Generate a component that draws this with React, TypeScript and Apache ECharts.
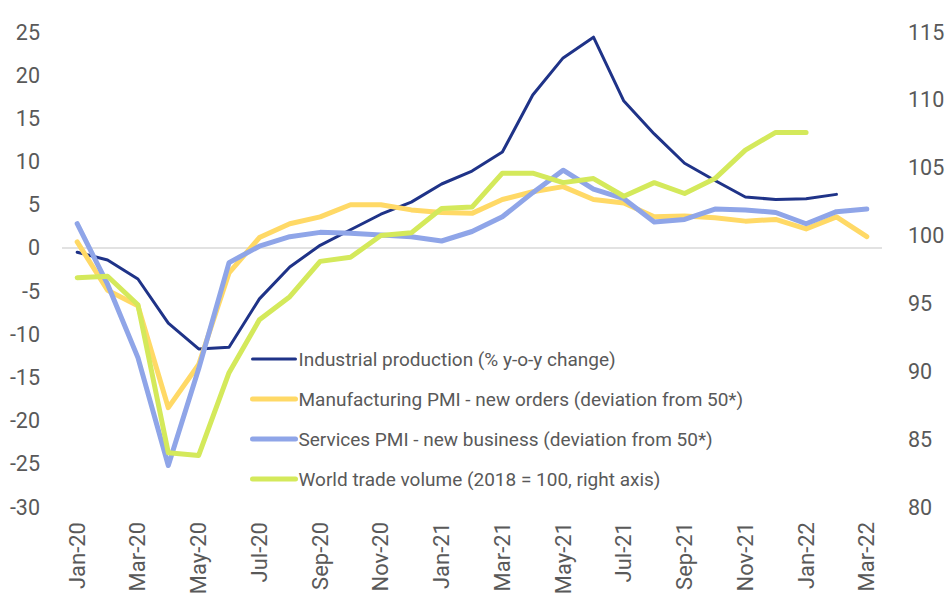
import React, { useEffect, useRef } from "react";
import * as echarts from "echarts";

const categories = [
  "Jan-20", "Feb-20", "Mar-20", "Apr-20", "May-20", "Jun-20", "Jul-20", "Aug-20", "Sep-20",
  "Oct-20", "Nov-20", "Dec-20", "Jan-21", "Feb-21", "Mar-21", "Apr-21", "May-21", "Jun-21",
  "Jul-21", "Aug-21", "Sep-21", "Oct-21", "Nov-21", "Dec-21", "Jan-22", "Feb-22", "Mar-22",
];

const industrial = [
  -0.5, -1.4, -3.6, -8.7, -11.7, -11.5, -5.9, -2.2, 0.3, 2.1, 3.9, 5.3, 7.4, 8.9, 11.1, 17.7,
  22.0, 24.4, 17.0, 13.2, 9.8, 7.8, 5.9, 5.6, 5.7, 6.2, null,
];

const manufacturing = [
  0.7, -4.9, -6.7, -18.5, -13.5, -2.9, 1.2, 2.8, 3.6, 5.0, 5.0, 4.4, 4.1, 4.0, 5.6, 6.5, 7.1,
  5.6, 5.2, 3.6, 3.7, 3.5, 3.1, 3.3, 2.2, 3.6, 1.3,
];

const services = [
  2.8, -4.2, -12.7, -25.2, -14.0, -1.7, 0.2, 1.3, 1.8, 1.7, 1.5, 1.3, 0.8, 1.9, 3.6, 6.4, 9.0,
  6.8, 5.7, 3.0, 3.3, 4.5, 4.4, 4.1, 2.8, 4.2, 4.5,
];

const trade = [
  96.9, 97.0, 94.9, 84.0, 83.8, 89.9, 93.8, 95.5, 98.1, 98.4, 100.0, 100.2, 102.0, 102.1, 104.6,
  104.6, 103.9, 104.2, 102.9, 103.9, 103.1, 104.2, 106.3, 107.6, 107.6, null, null,
];

const seriesNames = [
  "Industrial production (% y-o-y change)",
  "Manufacturing PMI - new orders (deviation from 50*)",
  "Services PMI - new business (deviation from 50*)",
  "World trade volume (2018 = 100, right axis)",
];
const seriesColors = ["#1F3388", "#FFD966", "#8FA5E8", "#D4E95B"];
const seriesWidths = [3, 5, 5, 5];

const leftTicks = { min: -30, max: 25, interval: 5 };
const rightTicks = { min: 80, max: 115, interval: 5 };

const TEXT = "#595959";
const FONT = "Roboto";

export default function App() {
  const ref = useRef<HTMLDivElement>(null);

  useEffect(() => {
    if (!ref.current) return;
    const chart = echarts.init(ref.current, undefined, { renderer: "svg" });
    const mk = (i: number, data: (number | null)[], yAxisIndex: number, extra: any = {}) => ({
      name: seriesNames[i],
      type: "line",
      data,
      yAxisIndex,
      symbol: "none",
      showSymbol: false,
      connectNulls: false,
      lineStyle: { color: seriesColors[i], width: seriesWidths[i], cap: "round", join: "round" },
      itemStyle: { color: seriesColors[i] },
      ...extra,
    });
    chart.setOption({
      animation: false,
      backgroundColor: "#ffffff",
      textStyle: { fontFamily: FONT },
      grid: { left: 62, right: 66, top: 32, bottom: 103, containLabel: false },
      legend: {
        orient: "vertical",
        left: 250,
        top: 346,
        padding: 0,
        itemWidth: 43,
        itemHeight: 14,
        itemGap: 14,
        itemStyle: { opacity: 0, borderWidth: 0 },
        data: seriesNames.map((name, i) => ({
          name,
          lineStyle: { color: seriesColors[i], width: seriesWidths[i], cap: "round" },
        })),
        textStyle: { color: TEXT, fontSize: 19, fontFamily: FONT, padding: [0, 0, 0, -2], lineHeight: 26 },
      },
      xAxis: {
        type: "category",
        data: categories,
        boundaryGap: true,
        axisLine: { show: false },
        axisTick: { show: false },
        splitLine: { show: false },
        axisLabel: {
          rotate: 90,
          interval: 1,
          margin: 15,
          color: TEXT,
          fontSize: 22,
          fontFamily: FONT,
        },
      },
      yAxis: [
        {
          type: "value",
          ...leftTicks,
          axisLine: { show: false },
          axisTick: { show: false },
          splitLine: { show: false },
          axisLabel: { color: TEXT, fontSize: 21.5, fontFamily: FONT, margin: 22 },
        },
        {
          type: "value",
          position: "right",
          ...rightTicks,
          axisLine: { show: false },
          axisTick: { show: false },
          splitLine: { show: false },
          axisLabel: { color: TEXT, fontSize: 21.5, fontFamily: FONT, margin: 26 },
        },
      ],
      series: [
        mk(0, industrial, 0, {
          markLine: {
            silent: true,
            symbol: "none",
            label: { show: false },
            lineStyle: { color: "#d9d9d9", width: 1.5, type: "solid" },
            data: [{ yAxis: 0 }],
            z: 1,
          },
        }),
        mk(1, manufacturing, 0),
        mk(2, services, 0),
        mk(3, trade, 1),
      ],
    });
    return () => chart.dispose();
  }, []);

  return <div ref={ref} style={{ width: 948, height: 610, position: "absolute", left: 0, top: 0 }} />;
}
